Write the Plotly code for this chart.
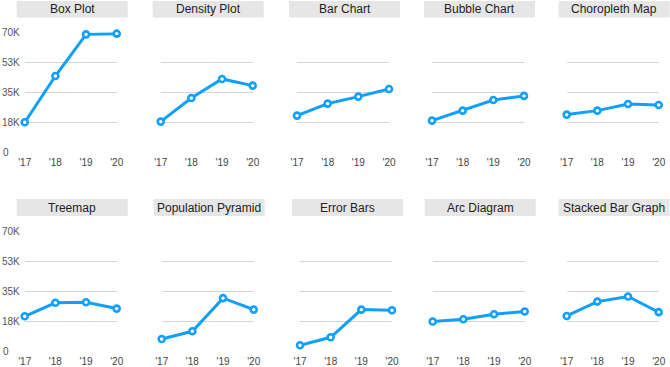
import plotly.graph_objects as go

years = ["'17", "'18", "'19", "'20"]
titles = ["Box Plot", "Density Plot", "Bar Chart", "Bubble Chart", "Choropleth Map",
          "Treemap", "Population Pyramid", "Error Bars", "Arc Diagram", "Stacked Bar Graph"]
box_plot = [17500, 44500, 68800, 69200]
density_plot = [17900, 31700, 42800, 38900]
bar_chart = [21400, 28400, 32500, 36900]
bubble_chart = [18500, 24300, 30500, 32900]
choropleth_map = [22000, 24300, 28200, 27600]
treemap = [20500, 28400, 28700, 25000]
population_pyramid = [7200, 11700, 31100, 24400]
error_bars = [3500, 8200, 24400, 24000]
arc_diagram = [17400, 18800, 21700, 23300]
stacked_bar_graph = [20700, 29100, 32100, 22900]
series = [box_plot, density_plot, bar_chart, bubble_chart, choropleth_map,
          treemap, population_pyramid, error_bars, arc_diagram, stacked_bar_graph]
y_ticks = [0, 17500, 35000, 52500, 70000]
y_tick_labels = ["0\u2007\u2007", "18K", "35K", "53K", "70K"]

W, H = 670, 367
BLUE = "#0fa0ff"
col_left = [[24.7, 160.7, 297.0, 432.0, 566.7],
            [24.7, 161.7, 300.0, 432.7, 566.7]]
plot_w = 92.0
row_top = [32.3, 231.7]     # pixel y of 70K gridline
row_bot = [152.3, 351.3]    # pixel y of 0 gridline
bar_top = [1.0, 199.0]
bar_bot = [17.5, 216.0]

fig = go.Figure()
layout = dict(width=W, height=H, margin=dict(l=0, r=0, t=0, b=0, autoexpand=False),
              template="none",
              paper_bgcolor="white", plot_bgcolor="white", showlegend=False,
              font=dict(family="Liberation Sans, Arial, sans-serif"))
shapes, annotations = [], []

for i, (title, vals) in enumerate(zip(titles, series)):
    r, c = divmod(i, 5)
    k = i + 1
    xa = "x" if k == 1 else f"x{k}"
    ya = "y" if k == 1 else f"y{k}"
    xl = col_left[r][c]
    xr = xl + plot_w
    fig.add_trace(go.Scatter(
        x=list(range(len(years))), y=vals, xaxis=xa, yaxis=ya,
        mode="lines+markers", cliponaxis=False,
        line=dict(color=BLUE, width=3),
        marker=dict(size=6, color="white", line=dict(color=BLUE, width=2.6)),
        hoverinfo="skip"))
    layout["xaxis" if k == 1 else f"xaxis{k}"] = dict(
        domain=[xl / W, xr / W], anchor=ya, range=[0, 3], automargin=False,
        tickmode="array", tickvals=list(range(len(years))), ticktext=years,
        showgrid=False, zeroline=False, showline=False, ticks="",
        tickfont=dict(size=10, color="#444"), ticklabelstandoff=3)
    layout["yaxis" if k == 1 else f"yaxis{k}"] = dict(
        domain=[1 - row_bot[r] / H, 1 - row_top[r] / H], anchor=xa, automargin=False,
        range=[0, 70000], tickmode="array", tickvals=y_ticks, ticktext=y_tick_labels,
        showticklabels=(c == 0), showgrid=True, gridcolor="#d4d4d4", gridwidth=1,
        zeroline=False, showline=False, ticks="",
        tickfont=dict(size=10, color="#555"), ticklabelstandoff=4)
    bl, br = xl - 8, xr + 11
    shapes.append(dict(type="rect", xref="paper", yref="paper",
                       x0=bl / W, x1=br / W, y0=1 - bar_bot[r] / H, y1=1 - bar_top[r] / H,
                       fillcolor="#e6e6e6", line=dict(width=0), layer="below"))
    annotations.append(dict(text=title, xref="paper", yref="paper",
                            x=(bl + br) / 2 / W, y=1 - (bar_top[r] + bar_bot[r]) / 2 / H,
                            xanchor="center", yanchor="middle", showarrow=False,
                            font=dict(size=12, color="#222")))

layout["shapes"] = shapes
layout["annotations"] = annotations
fig.update_layout(**layout)
fig.write_html("out.html", config={"displayModeBar": False},
               post_script="document.body.style.margin='0';document.body.style.overflow='hidden';")
